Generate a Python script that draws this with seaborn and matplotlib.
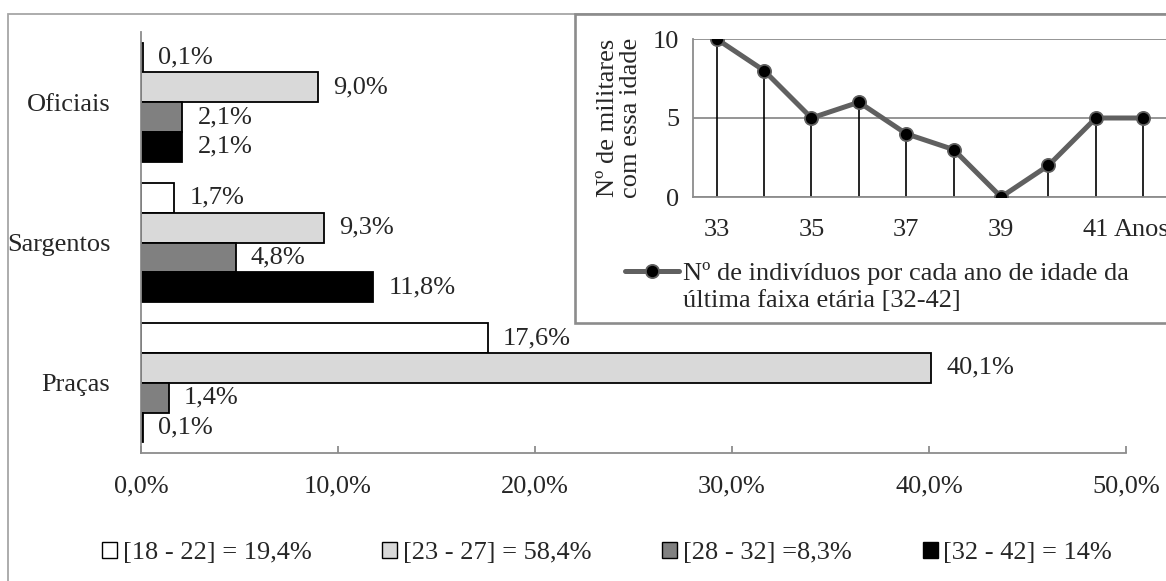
import pandas as pd
import matplotlib
matplotlib.use("Agg")
import matplotlib.pyplot as plt
import seaborn as sns
from matplotlib.patches import Rectangle, Patch

# -----------------------------
# Data
# -----------------------------
categorias = ["Oficiais", "Sargentos", "Praças"]
faixas = ["[18 - 22] = 19,4%", "[23 - 27] = 58,4%", "[28 - 32] =8,3%", "[32 - 42] = 14%"]
oficiais = [0.1, 9.0, 2.1, 2.1]
sargentos = [1.7, 9.3, 4.8, 11.8]
pracas = [17.6, 40.1, 1.4, 0.1]
cores = ["#ffffff", "#d9d9d9", "#808080", "#000000"]

idades = [33, 34, 35, 36, 37, 38, 39, 40, 41, 42]
contagem = [10, 8, 5, 6, 4, 3, 0, 2, 5, 5]

x_ticks = [0, 10, 20, 30, 40, 50]

rows = []
for cat, vals in zip(categorias, [oficiais, sargentos, pracas]):
    for f, v in zip(faixas, vals):
        rows.append({"cat": cat, "faixa": f, "valor": v})
df = pd.DataFrame(rows)
df_idade = pd.DataFrame({"idade": idades, "n": contagem})

# -----------------------------
# Style
# -----------------------------
sns.set_style("white")
plt.rcParams["font.family"] = ["Liberation Serif", "DejaVu Serif"]
FS = 19
plt.rcParams["font.size"] = FS
GRAY = "#8c8c8c"

W, H = 1166, 581
fig = plt.figure(figsize=(W / 100, H / 100), dpi=100)

# outer frame
fig.patches.append(Rectangle((8 / W, -0.1), 1.2, 1 - 14 / H + 0.1, transform=fig.transFigure,
                             fill=False, edgecolor="#a6a6a6", linewidth=1.3, zorder=-1))

# -----------------------------
# Main bar chart
# -----------------------------
ax = fig.add_axes([141 / W, 1 - 453 / H, (1126 - 141) / W, (453 - 32) / H])
ax.set_zorder(0)

sns.barplot(
    data=df, y="cat", x="valor", hue="faixa", orient="h",
    hue_order=faixas, palette=cores, width=0.85,
    edgecolor="black", linewidth=1.3, ax=ax, legend=False
)

for cont in ax.containers:
    labels = [f"{b.get_width():.1f}%".replace(".", ",") for b in cont]
    ax.bar_label(cont, labels=labels, padding=11, fontsize=FS)

ax.set_xlim(0, 50)
ax.set_ylim(2.5, -0.5)
ax.set_xticks(x_ticks)
ax.set_xticklabels([f"{t:.1f}%".replace(".", ",") for t in x_ticks])
ax.set_xlabel("")
ax.set_ylabel("")
ax.tick_params(axis="x", direction="in", length=5, width=1.3, color=GRAY, pad=16, bottom=True)
ax.tick_params(axis="y", length=0, pad=22)
for s in ["top", "right"]:
    ax.spines[s].set_visible(False)
for s in ["left", "bottom"]:
    ax.spines[s].set_color(GRAY)
    ax.spines[s].set_linewidth(1.3)

handles = [Patch(facecolor=c, edgecolor="black", linewidth=1.0) for c in cores]
fig.legend(handles, faixas, loc="center", bbox_to_anchor=(607 / W, 1 - 553 / H), ncol=4,
           frameon=False, handlelength=0.57, handleheight=0.57, handletextpad=0.22,
           columnspacing=2.68, fontsize=FS)

# -----------------------------
# Inset line chart
# -----------------------------
fig.patches.append(Rectangle((575 / W, 1 - 323 / H), 0.6, (323 - 14) / H, transform=fig.transFigure,
                             facecolor="white", edgecolor=GRAY, linewidth=1.9, zorder=1))

ax_in = fig.add_axes([693 / W, 1 - 197 / H, (1167 - 693) / W, (197 - 39) / H])
ax_in.set_zorder(3)
ax_in.patch.set_visible(False)

ax_in.vlines(df_idade["idade"], 0, df_idade["n"], color="black", linewidth=1.2, zorder=2)
sns.lineplot(
    data=df_idade, x="idade", y="n", ax=ax_in, color="#606060", linewidth=3.6,
    marker="o", markersize=9.5, markerfacecolor="black", markeredgecolor="#606060",
    markeredgewidth=1.3, label="Nº de indivíduos por cada ano de idade da", zorder=3
)

ax_in.set_xlim(32.5, 42.5)
ax_in.set_ylim(0, 10)
ax_in.set_yticks([0, 5, 10])
ax_in.set_xticks(idades[::2])
ax_in.set_xlabel("")
ax_in.set_ylabel("Nº de militares\ncom essa idade", fontsize=FS, labelpad=8, linespacing=1.06)
ax_in.grid(axis="y", color=GRAY, linewidth=1.3)
ax_in.tick_params(axis="x", length=0, pad=16)
ax_in.tick_params(axis="y", length=5, color=GRAY, width=1.3, pad=5)
for s in ["top", "right"]:
    ax_in.spines[s].set_visible(False)
for s in ["left", "bottom"]:
    ax_in.spines[s].set_color(GRAY)
    ax_in.spines[s].set_linewidth(1.3)

ax_in.text(41.375, -0.21, "Anos", transform=ax_in.get_xaxis_transform(), ha="left", va="center",
           fontsize=FS)

ax_in.legend(loc="center left", bbox_to_anchor=(625 / W, 1 - 273 / H),
             bbox_transform=fig.transFigure, frameon=False, handlelength=2.05,
             handletextpad=0.15, borderpad=0, borderaxespad=0, fontsize=FS)
fig.text(683 / W, 1 - 301 / H, "última faixa etária [32-42]", ha="left", va="center", fontsize=FS)

plt.savefig("out.png", dpi=100)
plt.close()
